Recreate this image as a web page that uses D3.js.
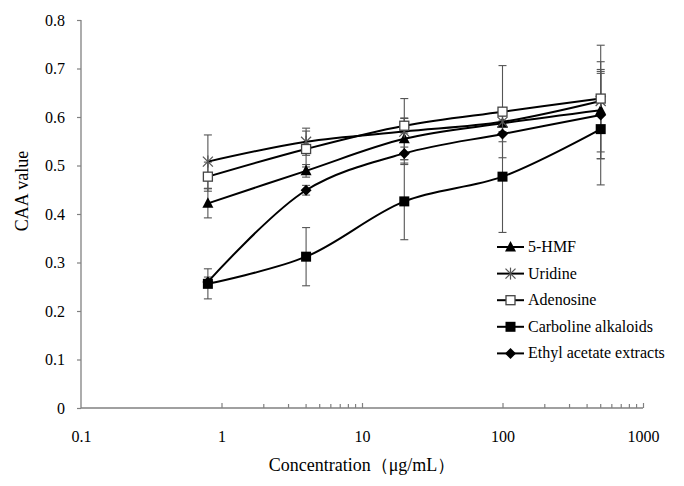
<!DOCTYPE html>
<html><head><meta charset="utf-8">
<script src="https://cdn.jsdelivr.net/npm/d3@7/dist/d3.min.js"></script>
<style>body{margin:0;background:#fff}svg{display:block}
svg text{font-family:"Liberation Serif","DejaVu Serif",serif !important;}</style>
</head><body>
<svg id="c" width="684" height="486"></svg>
<script>
const concentrations = [0.8, 4, 20, 100, 500];
const seriesNames = ["5-HMF", "Uridine", "Adenosine", "Carboline alkaloids", "Ethyl acetate extracts"];
const hmfValues = [0.422, 0.489, 0.555, 0.587, 0.614];
const hmfErrors = [0.03, 0.013, 0.043, 0.02, 0.1];
const uridineValues = [0.508, 0.549, 0.570, 0.590, 0.633];
const uridineErrors = [0.055, 0.028, 0.068, 0.02, 0.065];
const adenosineValues = [0.477, 0.534, 0.582, 0.611, 0.638];
const adenosineErrors = [0.03, 0.037, 0.015, 0.095, 0.11];
const carbolineValues = [0.256, 0.312, 0.426, 0.477, 0.575];
const carbolineErrors = [0.031, 0.06, 0.079, 0.115, 0.115];
const ethylValues = [0.26, 0.449, 0.525, 0.565, 0.604];
const ethylErrors = [0.01, 0.01, 0.013, 0.016, 0.09];
const xTickValues = [0.1, 1, 10, 100, 1000];
const yTickValues = [0, 0.1, 0.2, 0.3, 0.4, 0.5, 0.6, 0.7, 0.8];
const xMinorTicks = [2,3,4,5,6,7,8,9,200,300,400,500,600,700,800,900];

const markers = ["triangle", "star", "openSquare", "square", "diamond"];
const series = seriesNames.map((n, i) => ({
  name: n, marker: markers[i],
  values: [hmfValues, uridineValues, adenosineValues, carbolineValues, ethylValues][i],
  errors: [hmfErrors, uridineErrors, adenosineErrors, carbolineErrors, ethylErrors][i]
}));

const svg = d3.select("#c");
const x = d3.scaleLog().domain([0.1, 1000]).range([81, 643]);
const y = d3.scaleLinear().domain([0, 0.8]).range([408, 20]);
const axisCol = "#808080";

// Y axis
const ya = svg.append("g").attr("transform", "translate(81,0)")
  .call(d3.axisLeft(y).tickValues(yTickValues).tickSize(4).tickPadding(12)
    .tickFormat(d => d === 0 ? "0" : d3.format(".1f")(d)));
ya.attr("font-family", null);
ya.select(".domain").attr("stroke", axisCol).attr("stroke-width", 1.3).attr("d", "M0,20V408");
ya.selectAll(".tick line").attr("stroke", axisCol).attr("stroke-width", 1.2);
ya.selectAll("text").attr("font-size", 16).attr("fill", "#000");

// X axis
const xa = svg.append("g").attr("transform", "translate(0,408)")
  .call(d3.axisBottom(x).tickValues(xTickValues).tickSize(-5).tickPadding(0)
    .tickFormat(d => String(d)));
xa.attr("font-family", null);
xa.select(".domain").attr("stroke", axisCol).attr("stroke-width", 1.3).attr("d", "M81,0H643");
xa.selectAll(".tick line").attr("stroke", axisCol).attr("stroke-width", 1.2)
  .attr("display", d => d === 0.1 ? "none" : null);
xa.selectAll("text").attr("font-size", 16).attr("fill", "#000").attr("y", 34).attr("dy", 0);
xa.selectAll(".minor").data(xMinorTicks).enter().append("line")
  .attr("x1", d => x(d)).attr("x2", d => x(d)).attr("y1", 0).attr("y2", -4)
  .attr("stroke", axisCol).attr("stroke-width", 1.2);

// titles
svg.append("text").attr("x", 362).attr("y", 471).attr("text-anchor", "middle")
  .attr("font-size", 18).text("Concentration（μg/mL）");
svg.append("text").attr("transform", "translate(28,191) rotate(-90)").attr("text-anchor", "middle")
  .attr("font-size", 18).text("CAA value");

// error bars
const eb = svg.append("g");
series.forEach(s => {
  s.values.forEach((v, i) => {
    const cx = x(concentrations[i]), e = s.errors[i];
    const g = eb.append("g").attr("stroke", "#555").attr("stroke-width", 1.1);
    g.append("line").attr("x1", cx).attr("x2", cx).attr("y1", y(v - e)).attr("y2", y(v + e));
    g.append("line").attr("x1", cx - 4).attr("x2", cx + 4).attr("y1", y(v - e)).attr("y2", y(v - e));
    g.append("line").attr("x1", cx - 4).attr("x2", cx + 4).attr("y1", y(v + e)).attr("y2", y(v + e));
  });
});

// lines
const line = d3.line().x((d, i) => x(concentrations[i])).y(d => y(d)).curve(d3.curveCatmullRom.alpha(0.5));
series.forEach(s => {
  svg.append("path").attr("d", line(s.values)).attr("fill", "none").attr("stroke", "#000").attr("stroke-width", 2);
});

function drawMarker(g, type, cx, cy) {
  if (type === "triangle") {
    g.append("path").attr("d", `M${cx},${cy-6}L${cx+5.5},${cy+4.5}L${cx-5.5},${cy+4.5}Z`).attr("fill", "#000");
  } else if (type === "star") {
    const s = g.append("g").attr("stroke", "#555").attr("stroke-width", 1.2);
    s.append("line").attr("x1", cx-5).attr("x2", cx+5).attr("y1", cy-5).attr("y2", cy+5);
    s.append("line").attr("x1", cx-5).attr("x2", cx+5).attr("y1", cy+5).attr("y2", cy-5);
    s.append("line").attr("x1", cx).attr("x2", cx).attr("y1", cy-6).attr("y2", cy+6);
  } else if (type === "openSquare") {
    g.append("rect").attr("x", cx-4.5).attr("y", cy-4.5).attr("width", 9).attr("height", 9)
      .attr("fill", "#fff").attr("stroke", "#444").attr("stroke-width", 1.3);
  } else if (type === "square") {
    g.append("rect").attr("x", cx-5).attr("y", cy-5).attr("width", 10).attr("height", 10).attr("fill", "#000");
  } else if (type === "diamond") {
    g.append("path").attr("d", `M${cx},${cy-5.5}L${cx+5.5},${cy}L${cx},${cy+5.5}L${cx-5.5},${cy}Z`).attr("fill", "#000");
  }
}

const mk = svg.append("g");
series.forEach(s => {
  s.values.forEach((v, i) => drawMarker(mk, s.marker, x(concentrations[i]), y(v)));
});

// legend
const lg = svg.append("g");
series.forEach((s, i) => {
  const ly = 247 + i * 26.6;
  lg.append("line").attr("x1", 497).attr("x2", 524).attr("y1", ly).attr("y2", ly).attr("stroke", "#000").attr("stroke-width", 2);
  drawMarker(lg, s.marker, 510.5, ly);
  lg.append("text").attr("x", 528).attr("y", ly + 5).attr("font-size", 16).text(s.name);
});
</script>
</body></html>
